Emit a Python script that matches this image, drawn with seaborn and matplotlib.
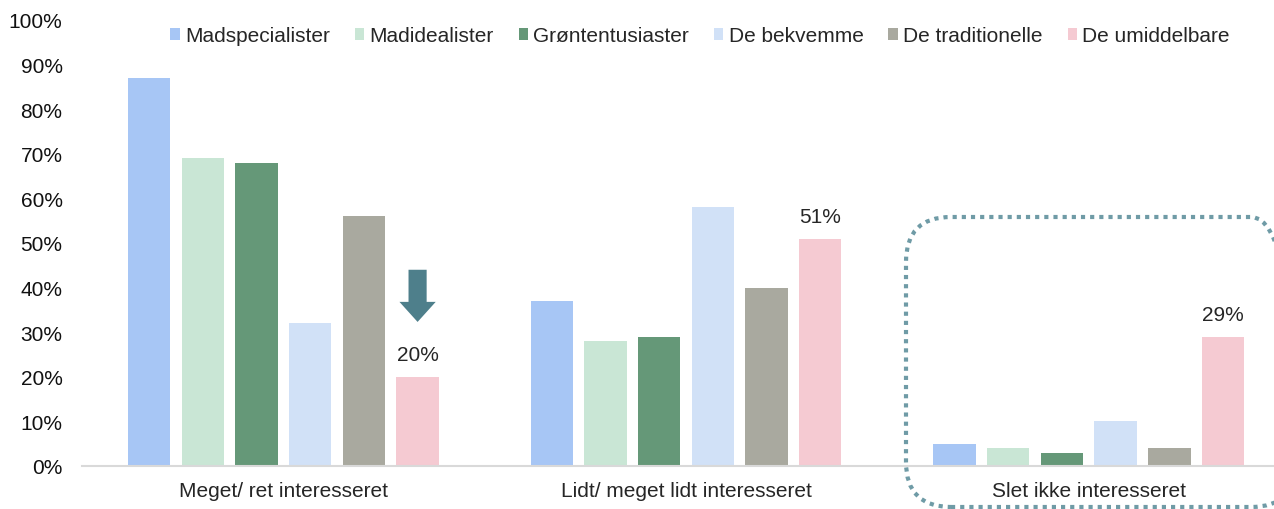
import matplotlib
matplotlib.use("Agg")
import matplotlib.pyplot as plt
from matplotlib.patches import Patch, FancyBboxPatch, FancyArrow
import seaborn as sns
import pandas as pd

categories = ["Meget/ ret interesseret", "Lidt/ meget lidt interesseret", "Slet ikke interesseret"]
segments = ["Madspecialister", "Madidealister", "Grøntentusiaster", "De bekvemme", "De traditionelle", "De umiddelbare"]
madspecialister = [87, 37, 5]
madidealister = [69, 28, 4]
groententusiaster = [68, 29, 3]
de_bekvemme = [32, 58, 10]
de_traditionelle = [56, 40, 4]
de_umiddelbare = [20, 51, 29]
colors = ["#A7C6F5", "#C9E6D5", "#659878", "#D1E1F7", "#A9A99F", "#F5CAD2"]
yticks = [0, 10, 20, 30, 40, 50, 60, 70, 80, 90, 100]

series = [madspecialister, madidealister, groententusiaster, de_bekvemme, de_traditionelle, de_umiddelbare]
rows = []
for seg, vals in zip(segments, series):
    for cat, v in zip(categories, vals):
        rows.append({"Kategori": cat, "Segment": seg, "Andel": v})
df = pd.DataFrame(rows)

sns.set_theme(style="white")
plt.rcParams['font.family'] = ['Liberation Sans', 'DejaVu Sans']
text_color = "#262626"
fs = 15

fig = plt.figure(figsize=(12.74, 5.10), dpi=100)
ax = fig.add_axes([82/1274, 43/510, (1274-82)/1274, 446/510])

sns.barplot(data=df, x="Kategori", y="Andel", hue="Segment", order=categories,
            hue_order=segments, palette=colors, width=0.8, gap=0.21,
            saturation=1, ax=ax, legend=False, edgecolor="none")

ax.set_ylim(0, 100)
ax.set_xlim(-0.5, 2.46)
ax.set_yticks(yticks)
ax.set_yticklabels([f"{t}%" for t in yticks])
ax.set_xlabel("")
ax.set_ylabel("")
for s in ["top", "right", "left"]:
    ax.spines[s].set_visible(False)
ax.spines["bottom"].set_color("#D9D9D9")
ax.spines["bottom"].set_linewidth(1.5)
ax.tick_params(axis="y", length=0, pad=14, labelsize=fs, labelcolor="#111111")
ax.tick_params(axis="x", length=0, pad=11, labelsize=fs, labelcolor=text_color)
ax.grid(False)

# labels on De umiddelbare bars
ax.bar_label(ax.containers[5], labels=[f"{v}%" for v in de_umiddelbare],
             padding=9, fontsize=fs, color=text_color)

# arrow above first pink bar
p = ax.containers[5][0]
xc = p.get_x() + p.get_width() / 2
arrow = FancyArrow(xc, 44, 0, -11.7, width=0.045, head_width=0.09, head_length=4.5,
                   length_includes_head=True, color="#4E7F8B", linewidth=0)
ax.add_patch(arrow)

# dotted rounded box
box = FancyBboxPatch((9.06, 0.02), 3.9, 2.9, boxstyle="round,pad=0,rounding_size=0.45",
                     transform=fig.dpi_scale_trans, fill=False, edgecolor="#6F9BA6",
                     linewidth=3, linestyle=(0, (1, 1.2)), clip_on=False)
fig.patches.append(box)

handles = [Patch(facecolor=c, edgecolor="none") for c in colors]
fig.legend(handles, segments, loc="center", bbox_to_anchor=(700/1274, 1 - 37/510), ncol=6,
           frameon=False, fontsize=fs, handlelength=0.45, handleheight=0.45,
           handletextpad=0.25, columnspacing=1.2, labelcolor=text_color)

fig.savefig("out.png", dpi=100)
